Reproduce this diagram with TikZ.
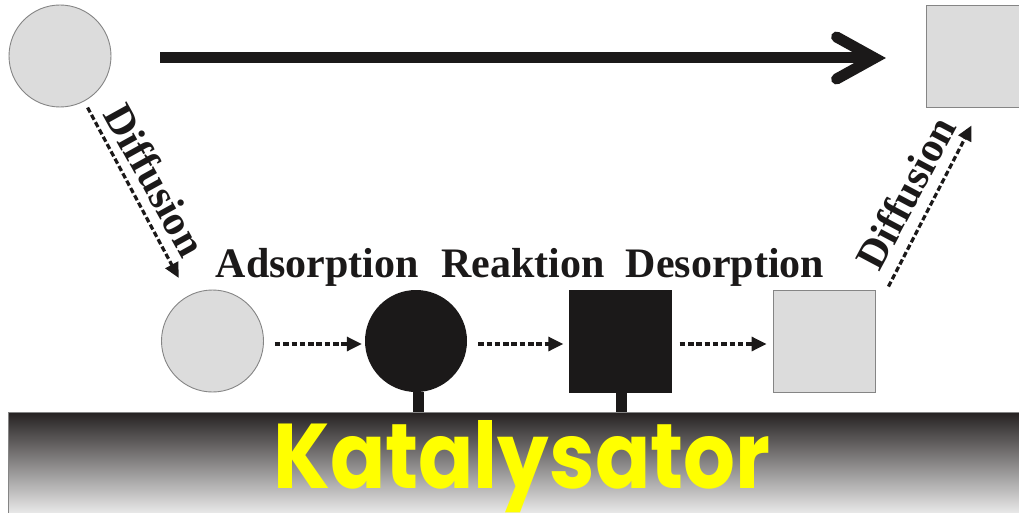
\documentclass[tikz,border=0pt]{standalone}
\usepackage{fontspec}
\setmainfont{Liberation Serif}
\newfontfamily\katfont{Poppins}
\usetikzlibrary{arrows.meta,calc}

\definecolor{molgray}{HTML}{DCDCDC}
\definecolor{edgegray}{HTML}{858585}
\definecolor{ink}{HTML}{1B1919}
\definecolor{katyellow}{HTML}{FFFF00}
\definecolor{bartop}{HTML}{262222}
\definecolor{barmid}{HTML}{7C7A7A}
\definecolor{barbot}{HTML}{EAEAEA}

\tikzset{
  gasmol/.style={circle, minimum size=102pt, inner sep=0pt, fill=molgray, draw=edgegray, line width=0.9pt},
  gasprod/.style={rectangle, minimum size=102pt, inner sep=0pt, fill=molgray, draw=edgegray, line width=0.9pt},
  adsmol/.style={circle, minimum size=102pt, inner sep=0pt, fill=ink},
  adsprod/.style={rectangle, minimum size=103pt, inner sep=0pt, fill=ink},
  stepflow/.style={ink, line width=3.2pt, dash pattern=on 5.5pt off 2.8pt,
    -{Triangle[length=15pt,width=14pt]}},
  bigflow/.style={ink, line width=11pt},
  chevron/.style={ink, line width=11pt, line cap=round, line join=miter},
  anchorstem/.style={ink, line width=11pt},
  steplabel/.style={font=\fontsize{42}{48}\selectfont\bfseries, text=ink, inner sep=0pt},
  catbar/.style={rectangle, anchor=north west, minimum width=1030pt, minimum height=101pt,
    inner sep=0pt, top color=bartop, middle color=barmid, bottom color=barbot,
    draw=edgegray, line width=1pt},
}

\begin{document}
\begin{tikzpicture}[x=1pt, y=-1pt]
  \clip (0,0) rectangle (1019,513);
  \fill[white] (0,0) rectangle (1019,513);

  % catalyst surface
  \node[catbar] (kat) at (8,412) {};
  \node[font=\katfont\bfseries, text=katyellow, inner sep=0pt, anchor=base west]
    (katlabel) at (273,488) {\resizebox{497pt}{68pt}{Katalysator}};

  % molecules in the gas phase
  \node[gasmol]  (m0) at (60,56) {};
  \node[gasprod] (p3) at (977,56) {};

  % molecules at the surface
  \node[gasmol]  (m1) at (212.5,341) {};
  \node[adsmol]  (m2) at (416,341) {};
  \node[adsprod] (p1) at (620,341) {};
  \node[gasprod] (p2) at (824,341) {};

  % bonds to the surface
  \draw[anchorstem] ([xshift=2pt]m2.south) -- ([xshift=2pt]m2.south |- kat.north);
  \draw[anchorstem] ([xshift=1.5pt]p1.south) -- ([xshift=1.5pt]p1.south |- kat.north);

  % overall conversion
  \draw[bigflow, shorten <=49pt, shorten >=52pt] ([yshift=-2pt]m0.east) -- ([yshift=-2pt]p3.west);
  \coordinate (bigtip) at ($(p3.west)+(-51,2)$);
  \draw[chevron] ($(bigtip)+(-38,-21)$) -- (bigtip) -- ($(bigtip)+(-38,21)$);

  % elementary steps
  \draw[stepflow, shorten <=7pt, shorten >=20pt] (m0) -- (m1);
  \draw[stepflow, shorten <=11pt, shorten >=3pt] ([yshift=-3pt]m1.east) -- ([yshift=-3pt]m2.west);
  \draw[stepflow, shorten <=11pt, shorten >=5pt] ([yshift=-3pt]m2.east) -- ([yshift=-3pt]p1.west);
  \draw[stepflow, shorten <=8pt, shorten >=6pt] ([yshift=-3pt]p1.east) -- ([yshift=-3pt]p2.west);
  \draw[stepflow] ($(p2.north east)+(13,-3)$) -- ($(p3.south west)+(46,18)$);

  % step names
  \node[steplabel, anchor=base] (lads) at (317.5,277) {Adsorption};
  \node[steplabel, anchor=base] (lrea) at (523,277) {Reaktion};
  \node[steplabel, anchor=base] (ldes) at (725,277) {Desorption};
  \node[steplabel, rotate=-61] (ldif1) at (155,180) {Diffusion};
  \node[steplabel, rotate=62]  (ldif2) at (906,193) {Diffusion};
\end{tikzpicture}
\end{document}
